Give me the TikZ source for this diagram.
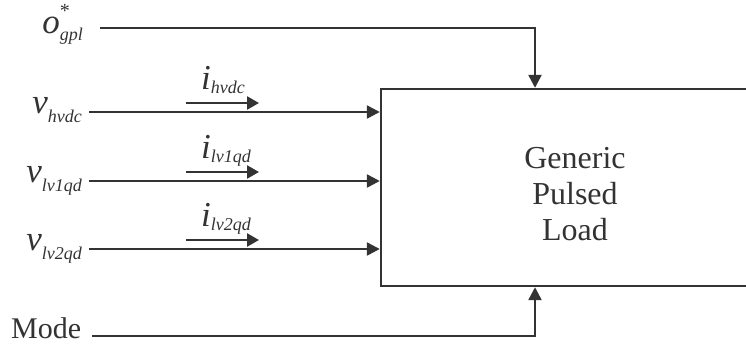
\documentclass[tikz,border=0pt]{standalone}
\usepackage{fontspec}
\setmainfont{Liberation Serif}
\usetikzlibrary{arrows.meta,positioning}

\definecolor{ink}{RGB}{51,51,51}
\newcommand{\lowidx}[2][0.26em]{\raisebox{-#1}{\fontsize{18}{18}\selectfont\itshape #2}}

\tikzset{
	wire/.style = {line width = 2.4pt, draw = ink, -{Triangle[length = 13pt, width = 13pt]}},
	curarrow/.style = {line width = 2.4pt, draw = ink, -{Triangle[length = 12pt, width = 13pt]}},
	sig/.style = {inner sep = 0pt, text = ink, font = \fontsize{35}{38}\selectfont},
	blockbox/.style = {draw = ink, line width = 2.4pt, minimum width = 388pt, minimum height = 197pt},
	blocktext/.style = {align = center, text = ink, font = \fontsize{32}{36}\selectfont}
}

\begin{document}
\begin{tikzpicture}[x = 1pt, y = -1pt]
	\useasboundingbox (0, 0) rectangle (746, 343);
	\clip (0, 0) rectangle (746, 343);
	\node[blockbox] (gpl) at (575, 187.5) {};
	\node[blocktext] (gplname) at (575, 194) {Generic\\Pulsed\\Load};
	% reference order on top
	\node[sig, anchor = base east] (og) at (83, 33)
		{\textit{o}\makebox[0pt][l]{\raisebox{0.45em}{\fontsize{20}{20}\selectfont *}}\lowidx[0.2em]{gpl}};
	\path (og.east) ++(17, 0) coordinate (ogin);
	\draw[wire] (ogin |- 0, 28) -| ([xshift = -40pt]gpl.north);
	% voltages and currents
	\foreach \y/\nm/\sb in {112/vh/hvdc, 181/vl/lv1qd, 249/vm/lv2qd}
	{
		\node[sig, anchor = base east] (\nm) at (82, \y + 1) {\textit{v}\lowidx{\sb}};
		\path (\nm.east) ++(7, 0) coordinate (\nm in);
		\draw[wire] (\nm in |- 0, \y) -- (gpl.west |- 0, \y);
		\coordinate (\nm a) at (186, \y - 9);
		\coordinate (\nm b) at (259, \y - 9);
		\draw[curarrow] (\nm a) -- (\nm b);
		\node[sig, anchor = base west] (\nm i) at (201, \y - 23) {\textit{i}\lowidx[0.12em]{\sb}};
	}
	% operating mode at the bottom
	\node[sig, anchor = base west, font = \fontsize{30}{32}\selectfont] (md) at (11, 338) {Mode};
	\path (md.east) ++(11, 0) coordinate (mdin);
	\draw[wire] (mdin |- 0, 336) -| ([xshift = -40pt]gpl.south);
\end{tikzpicture}
\end{document}
